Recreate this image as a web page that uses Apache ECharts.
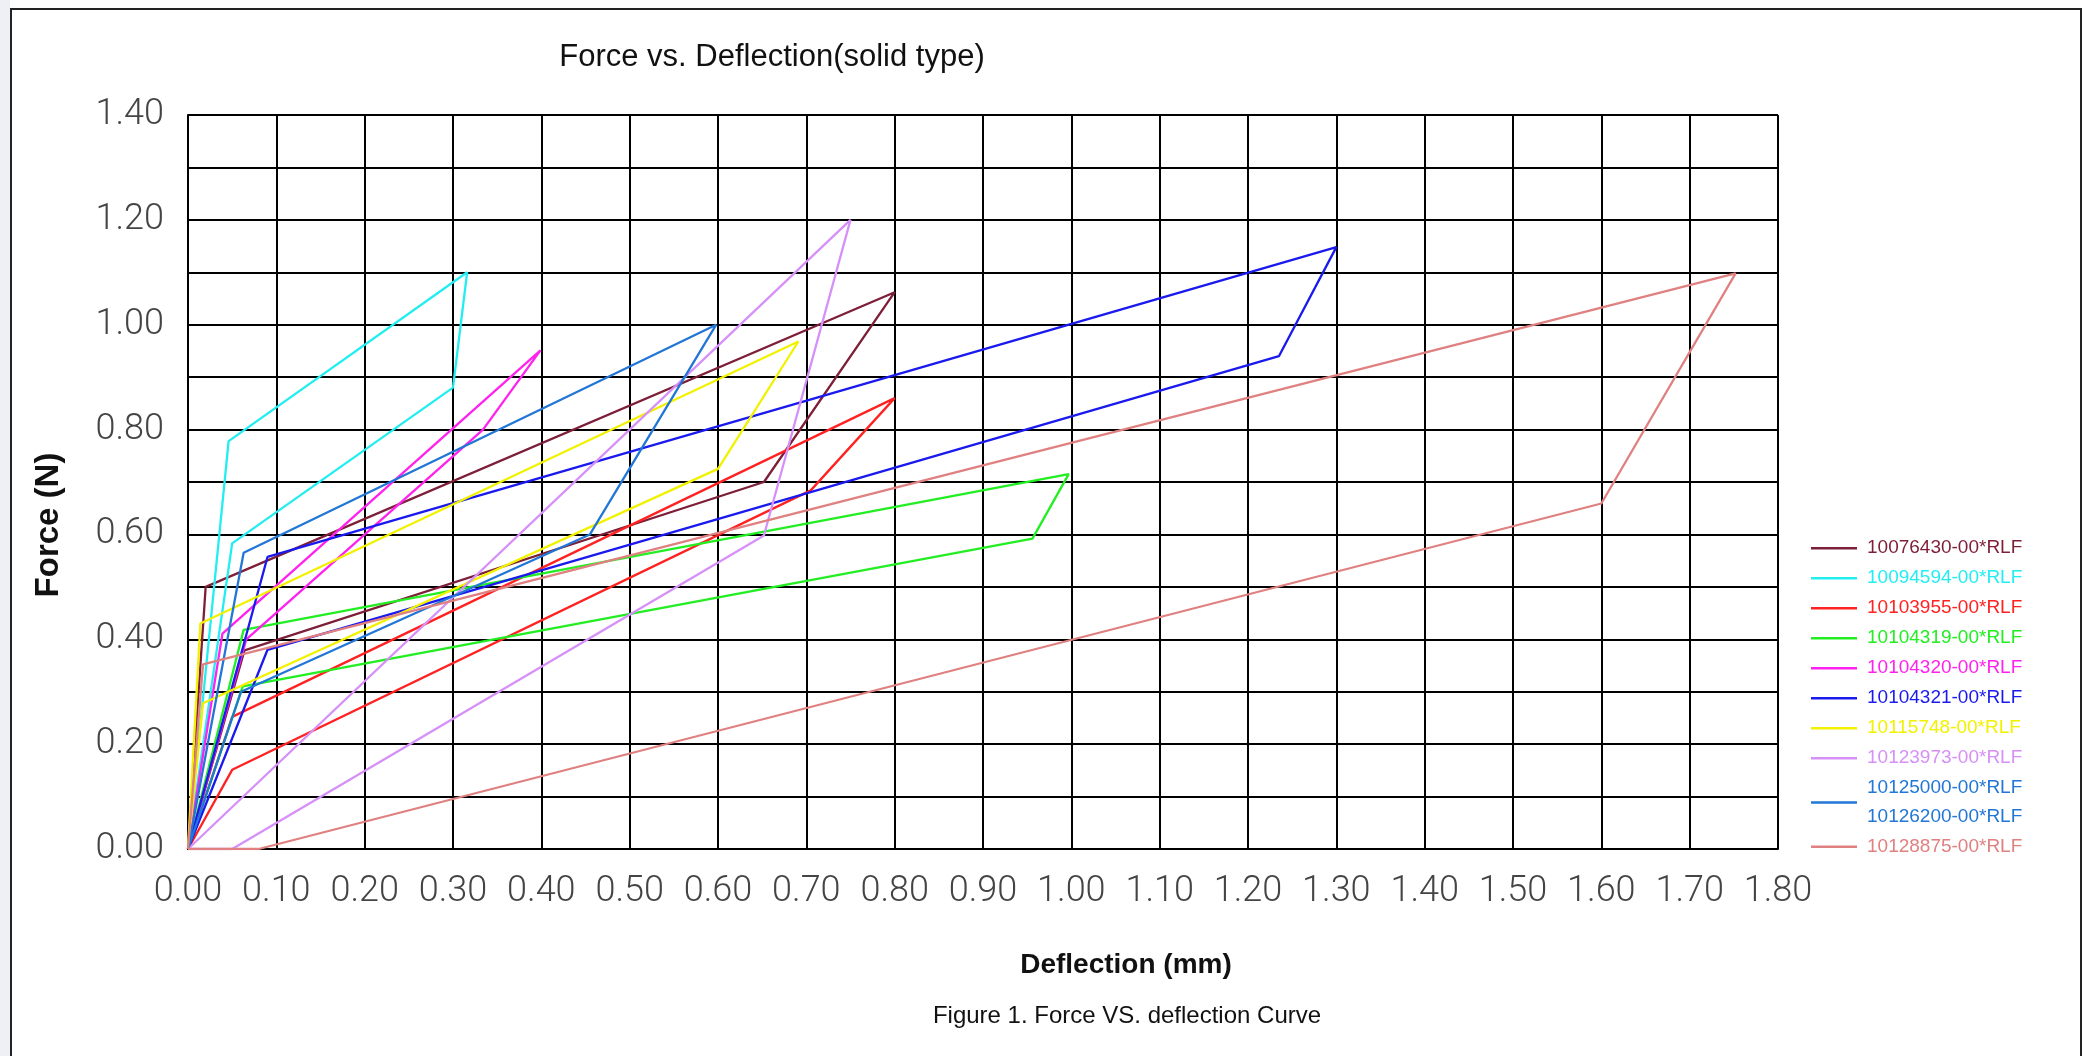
<!DOCTYPE html>
<html>
<head>
<meta charset="utf-8">
<script src="https://cdn.jsdelivr.net/npm/echarts@6/dist/echarts.min.js"></script>
<style>
html,body{margin:0;padding:0;background:#fff;}
#chart{width:2096px;height:1056px;}
</style>
</head>
<body>
<div id="chart"></div>
<script>
// ---- data (deflection mm, force N) ----
const seriesNames = [
  '10076430-00*RLF',
  '10094594-00*RLF',
  '10103955-00*RLF',
  '10104319-00*RLF',
  '10104320-00*RLF',
  '10104321-00*RLF',
  '10115748-00*RLF',
  '10123973-00*RLF',
  '10125000-00*RLF\n10126200-00*RLF',
  '10128875-00*RLF'
];
const s10076430 = [[0,0],[0.020,0.500],[0.800,1.062],[0.652,0.700],[0.064,0.379],[0,0]];
const s10094594 = [[0,0],[0.046,0.778],[0.316,1.100],[0.300,0.880],[0.050,0.583],[0,0]];
const s10103955 = [[0,0],[0.050,0.252],[0.800,0.860],[0.705,0.684],[0.050,0.151],[0,0]];
const s10104319 = [[0,0],[0.063,0.418],[0.997,0.715],[0.956,0.592],[0.062,0.310],[0,0]];
const s10104320 = [[0,0],[0.039,0.411],[0.399,0.951],[0.334,0.800],[0.066,0.400],[0,0]];
const s10104321 = [[0,0],[0.090,0.557],[1.300,1.148],[1.235,0.940],[0.090,0.380],[0,0]];
const s10115748 = [[0,0],[0.014,0.430],[0.691,0.968],[0.600,0.725],[0.017,0.278],[0,0]];
const s10123973 = [[0,0],[0.750,1.200],[0.652,0.598],[0.050,0],[0,0]];
const s10125000 = [[0,0],[0.063,0.565],[0.598,1.000],[0.455,0.600],[0.060,0.300],[0,0]];
const s10128875 = [[0,0],[0.017,0.352],[1.752,1.098],[1.600,0.659],[0.080,0],[0,0]];
const seriesData = [s10076430,s10094594,s10103955,s10104319,s10104320,s10104321,s10115748,s10123973,s10125000,s10128875];
const seriesColors = ['#7d1f38','#22eef2','#ff2222','#22ee22','#ff22ee','#1a1aee','#f2f200','#d690f8','#2277d6','#e08080'];

const titleText = 'Force vs. Deflection(solid type)';
const xName = 'Deflection (mm)';
const yName = 'Force (N)';
const captionText = 'Figure 1. Force VS. deflection Curve';

const chart = echarts.init(document.getElementById('chart'));
const FONT = '"Liberation Sans", Arial, sans-serif';

const option = {
  animation: false,
  backgroundColor: '#fff',
  grid: {left: 188, top: 115, width: 1590, height: 734, containLabel: false},
  xAxis: {
    type: 'value', min: 0, max: 1.8, interval: 0.1,
    axisLine: {show: true, lineStyle: {color: '#000', width: 2}},
    axisTick: {show: false},
    axisLabel: {
      margin: 25, fontSize: 36, fontFamily: 'Roboto', fontWeight: 300, color: '#444',
      formatter: v => v.toFixed(2)
    },
    splitLine: {show: true, lineStyle: {color: '#000', width: 2}}
  },
  yAxis: {
    type: 'value', min: 0, max: 1.4, interval: 0.1,
    axisLine: {show: true, lineStyle: {color: '#000', width: 2}},
    axisTick: {show: false},
    axisLabel: {
      margin: 24, fontSize: 36, fontFamily: 'Roboto', fontWeight: 300, color: '#444',
      formatter: v => (Math.round(v * 10) % 2 === 0 ? v.toFixed(2) : '')
    },
    splitLine: {show: true, lineStyle: {color: '#000', width: 2}}
  },
  legend: {
    orient: 'vertical', left: 1806, top: 529,
    icon: 'rect', itemWidth: 46, itemHeight: 2.5, itemGap: 1.5,
    textStyle: {fontSize: 19, lineHeight: 28.5, fontFamily: FONT, padding: [0, 0, 0, 5]},
    data: seriesNames.map((n, i) => ({name: n, textStyle: {color: seriesColors[i]}}))
  },
  series: seriesNames.map((n, i) => ({
    name: n, type: 'line', data: seriesData[i],
    symbol: 'none', showSymbol: false,
    lineStyle: {color: seriesColors[i], width: 2.3},
    itemStyle: {color: seriesColors[i]},
    z: 3
  })),
  graphic: [
    {type: 'rect', left: 0, top: 0, shape: {width: 10, height: 1056}, style: {fill: '#eef0f6'}, silent: true},
    {type: 'rect', shape: {x: 11, y: 9, width: 2070, height: 1060}, style: {fill: 'none', stroke: '#222', lineWidth: 2}, silent: true},
    {type: 'text', x: 772, y: 57, style: {text: titleText, font: '31px ' + FONT, fill: '#111', textAlign: 'center', textVerticalAlign: 'middle'}},
    {type: 'text', x: 49, y: 525, rotation: Math.PI / 2, style: {text: yName, font: 'bold 33px ' + FONT, fill: '#111', textAlign: 'center', textVerticalAlign: 'middle'}},
    {type: 'text', x: 1126, y: 965, style: {text: xName, font: 'bold 28px ' + FONT, fill: '#111', textAlign: 'center', textVerticalAlign: 'middle'}},
    {type: 'text', x: 1127, y: 1016, style: {text: captionText, font: '24px ' + FONT, fill: '#111', textAlign: 'center', textVerticalAlign: 'middle'}}
  ]
};
chart.setOption(option);
</script>
</body>
</html>
